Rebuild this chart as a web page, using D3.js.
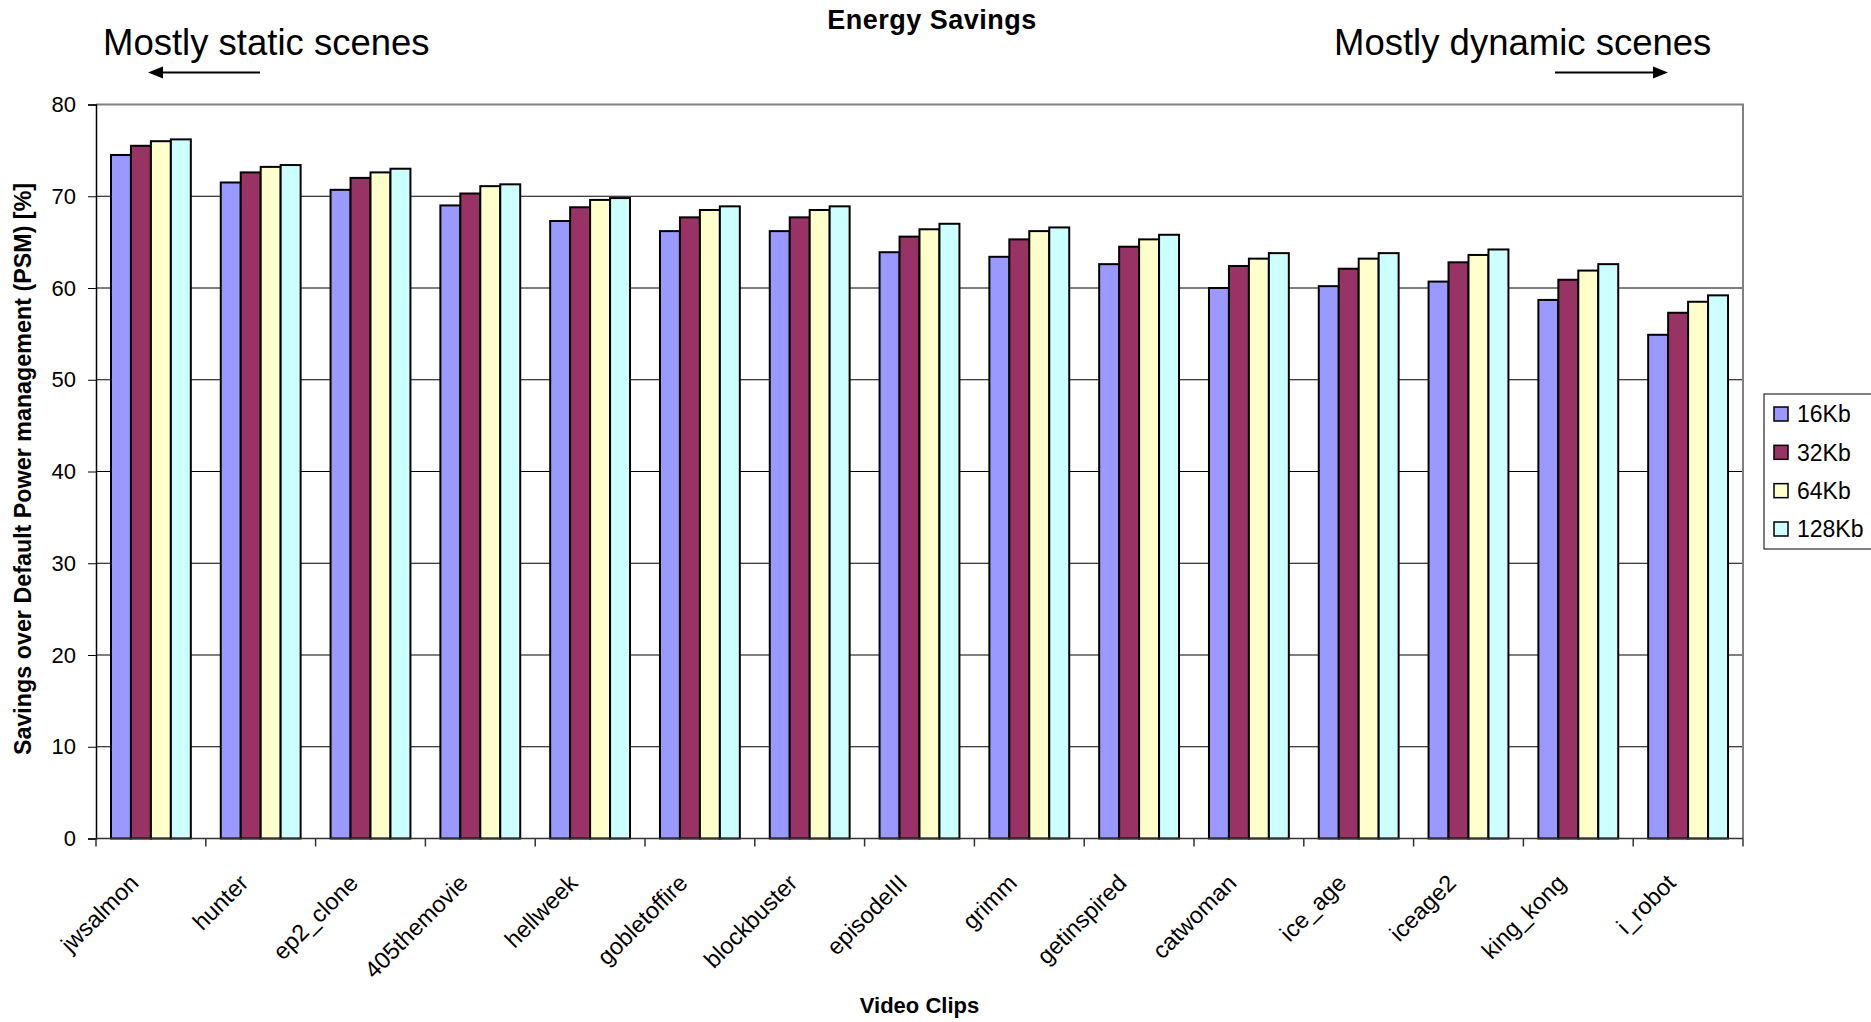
<!DOCTYPE html>
<html>
<head>
<meta charset="utf-8">
<script src="https://cdn.jsdelivr.net/npm/d3@7"></script>
<style>
  html, body { margin: 0; padding: 0; background: #fff; }
  svg { display: block; font-family: "Liberation Sans", Arial, sans-serif; }
</style>
</head>
<body>
<svg id="chart" width="1871" height="1022"></svg>
<script>
// Video clips, ordered from mostly static to mostly dynamic content
const categories = ["jwsalmon", "hunter", "ep2_clone", "405themovie", "hellweek", "gobletoffire",
  "blockbuster", "episodeIII", "grimm", "getinspired", "catwoman", "ice_age", "iceage2", "king_kong", "i_robot"];

const seriesNames = ["16Kb", "32Kb", "64Kb", "128Kb"];

// Energy savings over default PSM (%) per buffer size
const savings16Kb  = [74.5, 71.5, 70.7, 69.0, 67.3, 66.2, 66.2, 63.9, 63.4, 62.6, 60.0, 60.2, 60.7, 58.7, 54.9];
const savings32Kb  = [75.5, 72.6, 72.0, 70.3, 68.8, 67.7, 67.7, 65.6, 65.3, 64.5, 62.4, 62.1, 62.8, 60.9, 57.3];
const savings64Kb  = [76.0, 73.2, 72.6, 71.1, 69.6, 68.5, 68.5, 66.4, 66.2, 65.3, 63.2, 63.2, 63.6, 61.9, 58.5];
const savings128Kb = [76.2, 73.4, 73.0, 71.3, 69.8, 68.9, 68.9, 67.0, 66.6, 65.8, 63.8, 63.8, 64.2, 62.6, 59.2];

const yTicks = [0, 10, 20, 30, 40, 50, 60, 70, 80];

const seriesValues = [savings16Kb, savings32Kb, savings64Kb, savings128Kb];
const colors = ["#9999FF", "#993366", "#FFFFCC", "#CCFFFF"];

const svg = d3.select("#chart");

const plot = { left: 96, right: 1743, top: 104.5, bottom: 838.5 };

const x = d3.scaleBand().domain(categories).range([plot.left, plot.right]).padding(0);
// 150% gap between groups: 0.75 bar width on each side of a cluster
const xSeries = d3.scaleBand().domain(seriesNames).range([0, x.bandwidth()])
  .paddingInner(0).paddingOuter(0.75);
const y = d3.scaleLinear().domain([0, 80]).range([plot.bottom, plot.top]);

const color = d3.scaleOrdinal().domain(seriesNames).range(colors);

// Horizontal gridlines
svg.append("g")
  .selectAll("line")
  .data(yTicks.filter(t => t > 0 && t < 80))
  .join("line")
  .attr("x1", plot.left).attr("x2", plot.right)
  .attr("y1", d => y(d)).attr("y2", d => y(d))
  .attr("stroke", "#000").attr("stroke-width", 1);

// Plot area frame (top and right edges)
svg.append("path")
  .attr("d", `M${plot.left},${y(80)}H${plot.right}V${plot.bottom}`)
  .attr("fill", "none").attr("stroke", "#808080").attr("stroke-width", 2);

// Bars
const rows = categories.map((c, i) => ({ cat: c, vals: seriesNames.map((s, k) => ({ s, v: seriesValues[k][i] })) }));
svg.append("g")
  .selectAll("g")
  .data(rows)
  .join("g")
  .attr("transform", d => `translate(${x(d.cat)},0)`)
  .selectAll("rect")
  .data(d => d.vals)
  .join("rect")
  .attr("x", d => xSeries(d.s))
  .attr("width", xSeries.bandwidth())
  .attr("y", d => y(d.v))
  .attr("height", d => y(0) - y(d.v))
  .attr("fill", d => color(d.s))
  .attr("stroke", "#000")
  .attr("stroke-width", 2);

// Y axis
const yAxis = svg.append("g")
  .attr("transform", `translate(${plot.left},0)`)
  .call(d3.axisLeft(y).tickValues(yTicks).tickSize(8).tickPadding(12).tickFormat(d3.format("d")));
yAxis.select(".domain").attr("stroke", "#000").attr("stroke-width", 1.5);
yAxis.selectAll(".tick line").attr("stroke", "#000");
yAxis.selectAll(".tick text")
  .attr("font-family", "Liberation Sans, Arial, sans-serif")
  .attr("font-size", 22).attr("fill", "#000");

// X axis line and category boundary ticks
svg.append("line")
  .attr("x1", plot.left).attr("x2", plot.right)
  .attr("y1", plot.bottom).attr("y2", plot.bottom)
  .attr("stroke", "#333").attr("stroke-width", 1.5);
const boundaries = categories.map(c => x(c)).concat([plot.right]);
svg.append("g")
  .selectAll("line")
  .data(boundaries)
  .join("line")
  .attr("x1", d => d).attr("x2", d => d)
  .attr("y1", plot.bottom).attr("y2", plot.bottom + 8)
  .attr("stroke", "#333").attr("stroke-width", 1.5);

// Category labels, rotated 45 degrees
svg.append("g")
  .selectAll("text")
  .data(categories)
  .join("text")
  .attr("transform", d => `translate(${x(d) + x.bandwidth() / 2 - 11},${plot.bottom + 46}) rotate(-45)`)
  .attr("text-anchor", "end")
  .attr("font-size", 23.5)
  .attr("fill", "#000")
  .text(d => d);

// Title
svg.append("text")
  .attr("x", 932).attr("y", 29)
  .attr("text-anchor", "middle")
  .attr("font-size", 27).attr("font-weight", "bold")
  .attr("letter-spacing", 0.5)
  .text("Energy Savings");

// Axis titles
svg.append("text")
  .attr("transform", `translate(31,469) rotate(-90)`)
  .attr("text-anchor", "middle")
  .attr("font-size", 23.3).attr("font-weight", "bold")
  .text("Savings over Default Power management (PSM) [%]");

svg.append("text")
  .attr("x", (plot.left + plot.right) / 2).attr("y", 1013)
  .attr("text-anchor", "middle")
  .attr("font-size", 22).attr("font-weight", "bold")
  .text("Video Clips");

// Annotations with direction arrows
svg.append("text")
  .attr("x", 103).attr("y", 55)
  .attr("font-size", 36.5)
  .text("Mostly static scenes");
svg.append("text")
  .attr("x", 1334).attr("y", 55)
  .attr("font-size", 36.5)
  .text("Mostly dynamic scenes");

function arrow(xFrom, xTo, yy) {
  const dir = Math.sign(xTo - xFrom);
  const head = 15, half = 6;
  svg.append("line")
    .attr("x1", xFrom).attr("x2", xTo - dir * head)
    .attr("y1", yy).attr("y2", yy)
    .attr("stroke", "#000").attr("stroke-width", 2);
  svg.append("path")
    .attr("d", `M${xTo},${yy}L${xTo - dir * head},${yy - half}L${xTo - dir * head},${yy + half}Z`)
    .attr("fill", "#000");
}
arrow(260, 148, 72.5);
arrow(1555, 1668, 72.5);

// Legend
const legend = svg.append("g");
legend.append("rect")
  .attr("x", 1764).attr("y", 394)
  .attr("width", 130).attr("height", 155)
  .attr("fill", "#fff").attr("stroke", "#000").attr("stroke-width", 1);
const legendY = d3.scalePoint().domain(seriesNames).range([414, 529]);
const items = legend.selectAll("g")
  .data(seriesNames)
  .join("g")
  .attr("transform", d => `translate(1774,${legendY(d)})`);
items.append("rect")
  .attr("x", 0).attr("y", -7)
  .attr("width", 14).attr("height", 14)
  .attr("fill", d => color(d))
  .attr("stroke", "#000").attr("stroke-width", 1.5);
items.append("text")
  .attr("x", 23).attr("dy", "0.36em")
  .attr("font-size", 23)
  .text(d => d);
</script>
</body>
</html>
